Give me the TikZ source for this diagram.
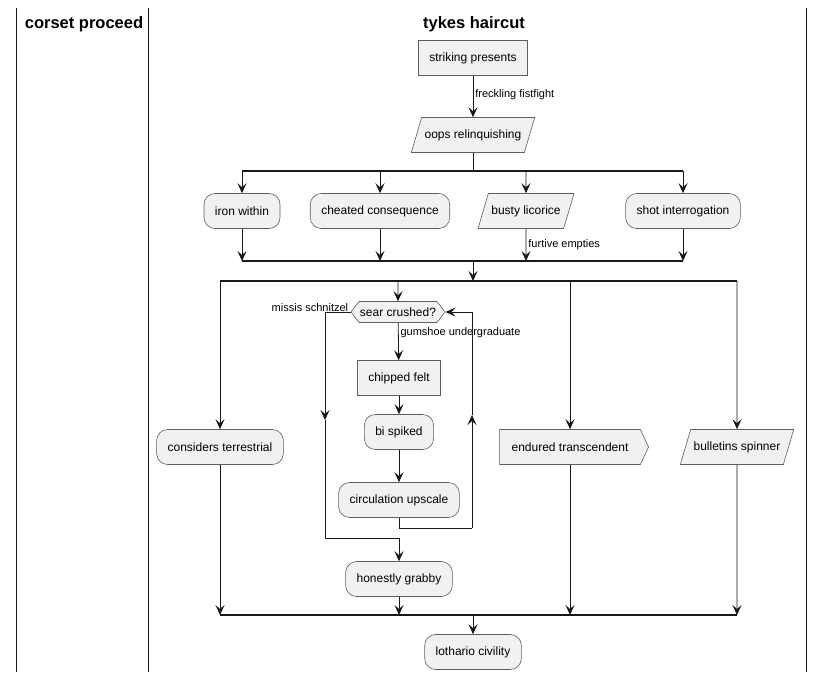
\documentclass[tikz,border=0pt]{standalone}
\usepackage{fontspec}
\setmainfont{Liberation Sans}
\usetikzlibrary{arrows.meta,shapes.geometric,shapes.symbols,positioning}
\definecolor{boxgray}{HTML}{F1F1F1}
\definecolor{linegray}{HTML}{181818}
\definecolor{edgegray}{HTML}{5E5E5E}
\tikzset{
  base/.style={draw=edgegray, fill=boxgray, font=\fontsize{12}{14}\selectfont,
    minimum height=35pt, inner xsep=11pt, line width=0.6pt},
  act/.style={base, rounded corners=11pt},
  stepbox/.style={base},
  io/.style={base, trapezium, trapezium stretches=true, trapezium left angle=60,
    trapezium right angle=120, inner xsep=3pt},
  decide/.style={base, signal, signal to=east and west, signal pointer angle=105,
    minimum height=21pt, inner xsep=1pt, inner ysep=1pt},
  sendsig/.style={base, signal, signal to=east, signal pointer angle=130, inner xsep=12pt},
  arr/.style={draw=linegray, line width=0.8pt, -{Stealth[length=10pt,width=9pt,inset=4pt]}},
  flow/.style={draw=linegray, line width=0.8pt},
  bar/.style={draw=linegray, line width=2.5pt},
  lbl/.style={font=\fontsize{11}{13}\selectfont, inner sep=2pt},
  lane/.style={draw=linegray, line width=1pt},
  title/.style={font=\fontsize{16.5}{19}\selectfont\bfseries}
}
\begin{document}
\begin{tikzpicture}[x=1pt,y=-1pt]
  \useasboundingbox (0,0) rectangle (824,681);

  % swimlanes
  \draw[lane] (16,8) -- (16,672);
  \draw[lane] (148,8) -- (148,672);
  \draw[lane] (806,8) -- (806,672);
  \node[title] (lane1) at (84,24) {corset proceed};
  \node[title] (lane2) at (474,24) {tykes haircut};

  % activities
  \node[stepbox] (strike) at (473,58)  {striking presents};
  \node[io]      (oops)   at (473,135) {oops relinquishing};
  \node[act]     (iron)   at (242,211) {iron within};
  \node[act]     (cheat)  at (380,211) {cheated consequence};
  \node[io]      (busty)  at (526,211) {busty licorice};
  \node[act]     (shot)   at (683,211) {shot interrogation};
  \node[act]     (consid) at (220,447) {considers terrestrial};
  \node[decide]  (sear)   at (398,312) {sear crushed?};
  \node[stepbox] (chip)   at (399,378) {chipped felt};
  \node[act]     (bi)     at (399,432) {bi spiked};
  \node[act]     (circ)   at (399,500) {circulation upscale};
  \node[act]     (honest) at (399,579) {honestly grabby};
  \node[sendsig] (endur)  at (570,447) {endured transcendent};
  \node[io]      (bullet) at (737,447) {bulletins spinner};
  \node[act]     (loth)   at (473,652) {lothario civility};

  % fork and join bars
  \coordinate (f1) at (473,171);
  \coordinate (j1) at (473,261);
  \coordinate (f2) at (473,281);
  \coordinate (j2) at (473,615);
  \draw[bar] (iron.north |- f1) -- (shot.north |- f1);
  \draw[bar] (iron.south |- j1) -- (shot.south |- j1);
  \draw[bar] (consid.north |- f2) -- (bullet.north |- f2);
  \draw[bar] (consid.south |- j2) -- (bullet.south |- j2);

  % flow
  \draw[arr] (strike) -- node[lbl, right, pos=0.45] {freckling fistfight} (oops);
  \draw[flow] (oops) -- (oops |- f1);
  \foreach \n in {iron,cheat,busty,shot}
    \draw[arr] (\n.north |- f1) -- (\n);
  \foreach \n in {iron,cheat,shot}
    \draw[arr] (\n) -- (\n.south |- j1);
  \draw[arr] (busty) -- node[lbl, right] {furtive empties} (busty.south |- j1);
  \draw[arr] (j1) -- (f2);
  \foreach \n in {consid,sear,endur,bullet}
    \draw[arr] (\n.north |- f2) -- (\n);

  % loop inside second branch
  \coordinate (nomid)   at (325,420);
  \coordinate (nobot)   at (325,538);
  \coordinate (backbot) at (472,528);
  \coordinate (backmid) at (472,415);
  \draw[arr] (sear.west) node[lbl, above left, yshift=-2pt] {missis schnitzel} -| (nomid);
  \draw[arr] (nomid) |- (honest.north |- nobot) -- (honest);
  \draw[arr] (sear) -- node[lbl, below right, pos=0, yshift=-2pt] {gumshoe undergraduate} (chip);
  \draw[arr] (chip) -- (bi);
  \draw[arr] (bi) -- (circ);
  \draw[flow] (circ.south) |- (backbot);
  \draw[arr] (backbot) -- (backmid);
  \draw[arr] (backmid) |- (sear.east);

  \foreach \n in {consid,honest,endur,bullet}
    \draw[arr] (\n) -- (\n.south |- j2);
  \draw[arr] (j2) -- (loth);
\end{tikzpicture}
\end{document}
